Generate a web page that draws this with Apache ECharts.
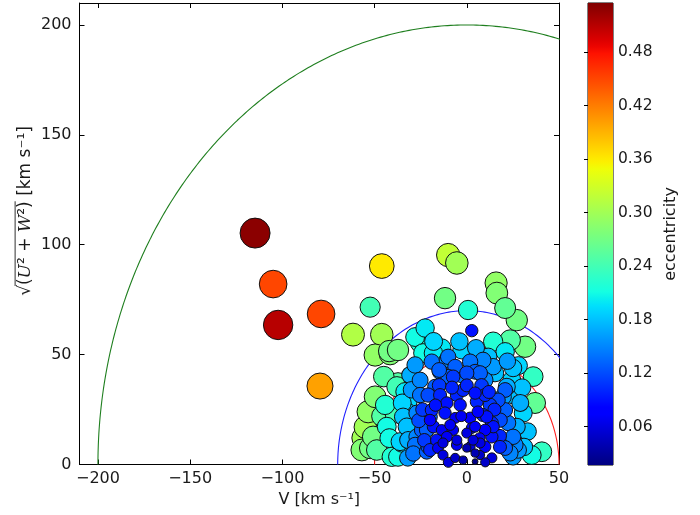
<!DOCTYPE html>
<html>
<head>
<meta charset="utf-8">
<script src="https://cdn.jsdelivr.net/npm/echarts@6/dist/echarts.min.js"></script>
<style>html,body{margin:0;padding:0;background:#fff}#c{width:700px;height:515px}</style>
</head>
<body>
<div id="c"></div>
<script>
// ---- data ----
const xTicks = [-200, -150, -100, -50, 0, 50];
const yTicks = [0, 50, 100, 150, 200];
const cbTicks = [0.06, 0.12, 0.18, 0.24, 0.30, 0.36, 0.42, 0.48];
const circleRadii = [200, 70, 50];
const circleColors = ['#1f7f1f', '#2020ff', '#ff2020'];

const starV = [
-114.8,-105.0,-102.3,-79.0,-79.6,-46.1,-52.4,-61.7,-46.1,-42.1,
-49.7,-10.1,-5.4,15.9,16.3,-11.8,0.7,2.7,20.8,27.1,
23.5,31.6,14.3,20.8,-22.6,-28.0,-25.3,-37.3,-23.7,-13.6,
-2.7,11.6,-28.0,-19.0,-10.1,-6.3,1.8,4.5,-14.5,-10.1,
-2.7,9.9,15.3,24.4,25.1,-37.3,-33.5,-17.2,-21.0,-5.4,
4.5,-10.8,5.4,20.8,17.0,25.1,37.0,-31.8,-32.5,-38.9,
-19.0,-11.8,8.8,20.8,30.6,-34.5,-19.9,-6.3,1.8,13.6,
22.4,-30.7,-24.4,-13.6,-7.4,2.7,9.9,13.6,25.1,-35.2,
-28.0,-21.0,-12.9,-5.4,1.8,7.2,20.8,26.2,35.2,40.7,
-37.3,-21.7,-15.6,0.0,4.5,13.6,4.5,25.1,9.9,-41.6,
-49.7,-53.5,-44.3,-27.1,-43.4,-56.2,-52.4,-48.8,-40.7,-56.9,
-31.8,-36.2,-20.0,-21.7,-16.3,-19.9,-18.1,-10.8,8.8,14.3,
7.2,-7.4,0.0,21.7,19.7,27.1,25.1,23.5,27.9,-37.9,
-50.8,-32.5,-27.1,-18.1,-10.8,-5.4,0.0,4.5,3.4,14.3,
10.8,-3.6,-2.0,-14.5,9.9,12.6,-25.3,-25.3,-30.7,18.1,
-6.3,-12.9,7.2,
-15.0,-8.0,0.0,8.0,12.0,-17.0,-3.0,6.0,15.0,-9.0,
7.0,18.0,18.0,-24.0,-26.0,-23.0,-30.0,-35.0,-29.0,-32.0,
29.0,30.0,28.0,22.0,-4.0,5.0,-18.0,-15.0,-45.0,-42.0,
-46.0,-55.0,33.0,31.0,36.0,-2.0,10.0,-10.0
];
const starUW = [
105.3,82.1,63.5,68.5,35.7,90.3,71.6,59.1,59.1,51.6,
49.8,95.3,91.7,82.6,78.0,75.7,70.3,60.9,71.2,65.7,
56.6,53.6,55.9,51.3,62.1,58.0,55.3,52.1,50.7,53.0,
52.1,49.0,45.3,46.8,49.0,44.5,46.8,42.2,42.2,39.9,
40.7,38.4,41.6,38.4,43.9,37.1,33.1,35.4,31.6,31.6,
32.5,28.0,28.6,33.9,29.3,31.6,28.0,28.6,24.0,23.4,
24.8,23.4,22.5,24.8,23.4,21.7,20.2,21.2,21.2,18.9,
18.9,16.6,15.7,15.7,15.7,16.6,15.7,12.6,12.6,9.8,
8.9,8.1,9.8,8.9,8.1,9.8,7.5,8.9,4.3,5.8,
3.5,5.8,7.5,7.5,5.2,3.0,1.3,3.5,8.1,50.3,
30.8,24.0,27.1,23.4,17.2,12.1,7.5,6.6,3.5,6.6,
11.1,10.4,21.7,15.7,11.1,6.6,50.7,47.5,47.5,44.5,
41.6,39.9,41.6,35.4,30.8,17.2,11.1,5.2,6.6,35.4,
12.6,17.2,12.6,17.2,12.6,11.1,14.3,17.2,11.1,17.2,
21.7,27.1,33.9,31.6,31.6,27.1,31.6,38.4,40.7,20.2,
3.0,4.3,4.3,
36.0,35.0,36.0,36.0,33.0,27.0,22.0,24.0,25.0,18.0,
12.0,13.0,8.0,25.0,20.0,11.0,34.0,28.0,5.0,3.0,
28.0,35.0,45.0,47.0,56.0,53.0,56.0,43.0,40.0,12.0,
22.0,17.0,15.0,8.0,40.0,2.0,1.0,1.0
];
const starEcc = [
0.53,0.45,0.51,0.45,0.40,0.36,0.24,0.31,0.30,0.27,
0.29,0.32,0.30,0.29,0.28,0.27,0.22,0.09,0.26,0.27,
0.25,0.27,0.22,0.20,0.20,0.21,0.22,0.27,0.21,0.20,
0.19,0.18,0.16,0.14,0.14,0.13,0.14,0.13,0.14,0.13,
0.14,0.15,0.18,0.19,0.18,0.25,0.20,0.13,0.12,0.10,
0.09,0.09,0.10,0.13,0.12,0.18,0.26,0.19,0.19,0.24,
0.10,0.09,0.10,0.13,0.19,0.18,0.08,0.07,0.08,0.10,
0.14,0.18,0.13,0.07,0.07,0.07,0.08,0.09,0.14,0.20,
0.14,0.12,0.06,0.07,0.06,0.06,0.13,0.15,0.21,0.23,
0.21,0.13,0.07,0.04,0.04,0.06,0.02,0.16,0.08,0.28,
0.28,0.29,0.22,0.15,0.21,0.30,0.27,0.25,0.22,0.28,
0.17,0.19,0.13,0.13,0.09,0.10,0.20,0.15,0.15,0.16,
0.13,0.11,0.12,0.17,0.16,0.17,0.16,0.15,0.16,0.24,
0.27,0.18,0.15,0.09,0.07,0.06,0.06,0.07,0.06,0.09,
0.09,0.09,0.10,0.10,0.10,0.11,0.14,0.15,0.17,0.12,
0.05,0.06,0.05,
0.11,0.10,0.10,0.11,0.10,0.09,0.07,0.08,0.10,0.07,
0.07,0.10,0.10,0.11,0.12,0.11,0.16,0.19,0.14,0.16,
0.17,0.18,0.19,0.16,0.18,0.17,0.19,0.13,0.25,0.21,
0.25,0.30,0.18,0.18,0.23,0.04,0.05,0.06
];
const cbMin = 0.017, cbMax = 0.535;

// ---- jet colormap ----
function lerpTab(t, tab) {
  for (let i = 1; i < tab.length; i++) {
    if (t <= tab[i][0]) {
      const a = tab[i-1], b = tab[i];
      return a[1] + (b[1]-a[1]) * (t - a[0]) / (b[0]-a[0]);
    }
  }
  return tab[tab.length-1][1];
}
function jet(t) {
  t = Math.max(0, Math.min(1, t));
  const r = lerpTab(t, [[0,0],[0.35,0],[0.66,1],[0.89,1],[1,0.5]]);
  const g = lerpTab(t, [[0,0],[0.125,0],[0.375,1],[0.64,1],[0.91,0],[1,0]]);
  const b = lerpTab(t, [[0,0.5],[0.11,1],[0.34,1],[0.65,0],[1,0]]);
  return 'rgb(' + Math.round(r*255) + ',' + Math.round(g*255) + ',' + Math.round(b*255) + ')';
}
const eColor = e => jet((e - cbMin) / (cbMax - cbMin));

// ---- build series data ----
const pts = starV.map((v, i) => [v, starUW[i], starEcc[i]]);
pts.sort((a, b) => b[2] - a[2]); // large markers first, small ones on top

function circlePts(R) {
  const out = [];
  for (let k = 0; k <= 360; k++) {
    const th = Math.PI * k / 360;
    out.push([R * Math.cos(th), R * Math.sin(th)]);
  }
  return out;
}

const minus = v => String(v).replace('-', '\u2212');
const FONT = 'DejaVu Sans';
const TXT = '#1a1a1a';

// ---- y axis title: sqrt with overline, built from measured text pieces ----
const mctx = document.createElement('canvas').getContext('2d');
const YFS = 17;
const sansF = YFS + 'px "DejaVu Sans"';
const serifIF = 'italic ' + YFS + 'px "DejaVu Serif"';
const ySegs = [
  {t: '\u221A', f: sansF},
  {t: '(', f: sansF, ol: true},
  {t: 'U', f: serifIF, ol: true},
  {t: '\u00B2 + ', f: sansF, ol: true},
  {t: 'W', f: serifIF, ol: true},
  {t: '\u00B2)', f: sansF, ol: true},
  {t: ' [km s\u207B\u00B9]', f: sansF}
];
let cur = 0;
ySegs.forEach(s => { mctx.font = s.f; s.w = mctx.measureText(s.t).width; s.x = cur; cur += s.w; });
const yTotal = cur;
const olSegs = ySegs.filter(s => s.ol);
const olX1 = olSegs[0].x - yTotal / 2 - 1;
const olX2 = olSegs[olSegs.length - 1].x + olSegs[olSegs.length - 1].w - yTotal / 2;
const yTitleChildren = ySegs.map(s => ({
  type: 'text', x: s.x - yTotal / 2, y: 0,
  style: {text: s.t, font: s.f, fill: TXT, textAlign: 'left', textVerticalAlign: 'middle', align: 'left', verticalAlign: 'middle'}
}));
yTitleChildren.push({type: 'line', shape: {x1: olX1, y1: -YFS * 0.64, x2: olX2, y2: -YFS * 0.64}, style: {stroke: TXT, lineWidth: 0.9}});

const chart = echarts.init(document.getElementById('c'), null, {renderer: 'canvas'});
const option = {
  animation: false,
  backgroundColor: '#fff',
  textStyle: {fontFamily: FONT},
  grid: [
    {left: 79.5, top: 3, width: 479.5, height: 461.5, show: false},
    {left: 588, top: 3, width: 25, height: 462, show: true, borderColor: '#000', borderWidth: 1, backgroundColor: 'transparent'}
  ],
  xAxis: [
    {gridIndex: 0, type: 'value', min: -210, max: 50, position: 'bottom',
     name: 'V [km s\u207B\u00B9]', nameLocation: 'middle', nameGap: 26,
     nameTextStyle: {fontSize: 16, color: TXT, fontFamily: FONT},
     axisLine: {show: true, onZero: false, lineStyle: {color: '#000', width: 1}},
     axisTick: {show: true, inside: true, length: 5, customValues: xTicks, lineStyle: {color: '#000'}},
     axisLabel: {show: true, customValues: xTicks, formatter: minus, fontSize: 16, color: TXT, margin: 6, fontFamily: FONT},
     splitLine: {show: false}},
    {gridIndex: 0, type: 'value', min: -210, max: 50, position: 'top',
     axisLine: {show: true, onZero: false, lineStyle: {color: '#000', width: 1}},
     axisTick: {show: true, inside: true, length: 5, customValues: xTicks, lineStyle: {color: '#000'}},
     axisLabel: {show: false}, splitLine: {show: false}},
    {gridIndex: 1, type: 'value', min: 0, max: 1, show: false}
  ],
  yAxis: [
    {gridIndex: 0, type: 'value', min: 0, max: 210, position: 'left',
     axisLine: {show: true, onZero: false, lineStyle: {color: '#000', width: 1}},
     axisTick: {show: true, inside: true, length: 5, customValues: yTicks, lineStyle: {color: '#000'}},
     axisLabel: {show: true, customValues: yTicks, fontSize: 16, color: TXT, margin: 8, fontFamily: FONT},
     splitLine: {show: false}},
    {gridIndex: 0, type: 'value', min: 0, max: 210, position: 'right',
     axisLine: {show: true, onZero: false, lineStyle: {color: '#000', width: 1}},
     axisTick: {show: true, inside: true, length: 5, customValues: yTicks, lineStyle: {color: '#000'}},
     axisLabel: {show: false}, splitLine: {show: false}},
    {gridIndex: 1, type: 'value', min: cbMin, max: cbMax, position: 'right',
     name: 'eccentricity', nameLocation: 'middle', nameRotate: 90, nameGap: 50,
     nameTextStyle: {fontSize: 16, color: TXT, fontFamily: FONT},
     axisLine: {show: false},
     axisTick: {show: true, inside: true, length: 4, customValues: cbTicks, lineStyle: {color: '#000'}},
     axisLabel: {show: true, customValues: cbTicks, formatter: v => v.toFixed(2), fontSize: 15.5, color: TXT, margin: 5, fontFamily: FONT},
     splitLine: {show: false}}
  ],
  graphic: [
    {type: 'group', x: 26, y: 211, rotation: Math.PI / 2, children: yTitleChildren}
  ],
  series: [
    ...circleRadii.map((R, i) => ({
      type: 'line', xAxisIndex: 0, yAxisIndex: 0, data: circlePts(R), showSymbol: false, symbol: 'none',
      clip: true, smooth: false, lineStyle: {color: circleColors[i], width: 1.1}, z: 2, silent: true
    })),
    {
      type: 'scatter', xAxisIndex: 0, yAxisIndex: 0, data: pts, z: 3,
      symbolSize: v => 41.2 * Math.sqrt(v[2]),
      itemStyle: {color: p => eColor(p.value[2]), borderColor: '#111', borderWidth: 1, opacity: 1}
    },
    {
      type: 'custom', xAxisIndex: 2, yAxisIndex: 2, data: [[0, cbMin, 1, cbMax]], z: 1,
      renderItem: function (params, api) {
        const p0 = api.coord([api.value(0), api.value(1)]);
        const p1 = api.coord([api.value(2), api.value(3)]);
        const stops = [];
        for (let k = 0; k <= 64; k++) stops.push({offset: k / 64, color: jet(k / 64)});
        return {
          type: 'rect',
          shape: {x: p0[0], y: p1[1], width: p1[0] - p0[0], height: p0[1] - p1[1]},
          style: {fill: new echarts.graphic.LinearGradient(0, 1, 0, 0, stops)}
        };
      }
    }
  ]
};
chart.setOption(option);
</script>
</body>
</html>
